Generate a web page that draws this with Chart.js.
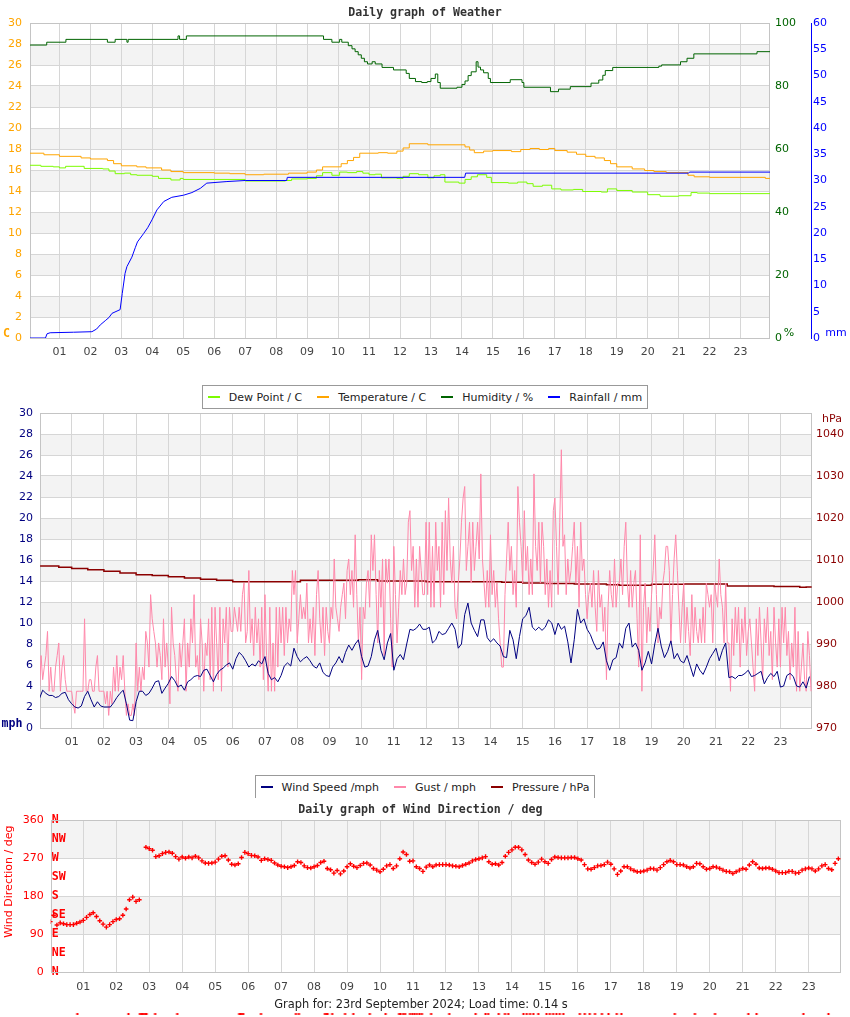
<!DOCTYPE html>
<html>
<head>
<meta charset="utf-8">
<title>Daily graph of Weather</title>
<script src="https://cdn.jsdelivr.net/npm/chart.js@4.4.1/dist/chart.umd.min.js"></script>
<style>
  body { margin: 0; background: #fff; }
  #page { position: relative; width: 850px; height: 1017px; overflow: hidden; font-family: "DejaVu Sans", sans-serif; }
  canvas { position: absolute; left: 0; }
  .legend { position: absolute; left: 0; width: 850px; text-align: center; z-index: 2; }
  .legend .box { display: inline-flex; align-items: center; height: 22px; padding: 0 5px; border: 1px solid #999; background: #fff; font-size: 11px; color: #222; }
  .legend .item { display: flex; align-items: center; margin-right: 15px; }
  .legend .item:last-child { margin-right: 0; }
  .legend .mark { width: 12px; height: 2px; margin-right: 9px; }
  #footer { position: absolute; top: 997px; left: 0; width: 842px; text-align: center; font-size: 11.4px; line-height: 14px; color: #222; z-index: 2; }
</style>
</head>
<body>
<div id="page">
  <canvas id="weather" width="850" height="370" style="top:0"></canvas>
  <canvas id="wind" width="850" height="382" style="top:388px"></canvas>
  <canvas id="direction" width="850" height="219" style="top:798px"></canvas>
  <canvas id="calm" width="850" height="12" style="top:1008px"></canvas>
  <div class="legend" id="legendWeather" style="top:383px"><div class="box"></div></div>
  <div class="legend" id="legendWind" style="top:773px"><div class="box" style="border-bottom:none"></div></div>
  <div id="footer">Graph for: 23rd September 2024; Load time: 0.14 s</div>
</div>
<script>
const hourTicks = [1, 2, 3, 4, 5, 6, 7, 8, 9, 10, 11, 12, 13, 14, 15, 16, 17, 18, 19, 20, 21, 22, 23]

// weather graph (breakpoints, value holds until next time)
const dewHours = [0.05, 0.4, 0.8, 1.0, 1.2, 1.8, 2.4, 2.6, 2.8, 3.1, 3.3, 3.5, 4.0, 4.2, 4.6, 4.9, 5.0, 6.0, 7.0, 8.3,
  8.5, 9.0, 9.3, 9.5, 9.8, 10.05, 10.3, 10.6, 10.8, 11.0, 11.2, 11.4, 11.9, 12.1, 12.3, 12.6, 12.9, 13.1, 13.3, 13.45,
  13.9, 14.1, 14.3, 14.5, 14.8, 14.95, 15.5, 15.8, 16.1, 16.3, 16.6, 16.9, 17.2, 17.6, 17.9, 18.5, 18.7, 19.0, 19.5, 20.0,
  20.4, 21.0, 21.4, 21.6, 22.0, 23.96]
const dewValues = [16.45, 16.35, 16.3, 16.2, 16.35, 16.15, 16.1, 15.9, 15.65, 15.7, 15.55, 15.5, 15.4, 15.2, 15.05, 15.2, 15.1, 15.1, 14.95, 15.0,
  15.15, 15.2, 15.45, 15.75, 15.5, 15.8, 15.75, 15.85, 15.7, 15.55, 15.6, 15.25, 15.2, 15.4, 15.65, 15.55, 15.25, 15.45, 15.55, 14.85,
  14.75, 15.1, 15.35, 15.55, 15.3, 14.8, 14.75, 14.85, 14.7, 14.45, 14.55, 14.2, 14.1, 14.15, 13.95, 13.9, 14.2, 14.05, 13.9, 13.65,
  13.5, 13.55, 13.85, 13.8, 13.75, 13.75]

const tempHours = [0.05, 0.5, 1.0, 1.7, 2.0, 2.55, 2.75, 3.0, 3.5, 3.8, 4.3, 4.6, 5.0, 6.0, 6.5, 7.0, 7.6, 8.4, 9.0, 9.3,
  9.5, 10.1, 10.3, 10.5, 10.7, 11.3, 11.6, 11.9, 12.1, 12.3, 12.9, 14.1, 14.25, 14.4, 14.7, 15.0, 15.6, 15.9, 16.2, 16.5,
  16.8, 17.0, 17.4, 17.7, 18.0, 18.3, 18.6, 18.8, 19.0, 19.5, 19.9, 20.2, 20.6, 21.3, 21.5, 22.0, 23.8, 23.96]
const tempValues = [17.6, 17.45, 17.3, 17.15, 17.05, 16.9, 16.6, 16.4, 16.3, 16.2, 16.0, 15.85, 15.75, 15.7, 15.65, 15.55, 15.6, 15.7, 15.8, 16.0,
  16.3, 16.6, 16.9, 17.2, 17.6, 17.65, 17.6, 17.8, 18.1, 18.5, 18.4, 18.2, 17.9, 17.65, 17.8, 17.85, 17.75, 17.95, 18.05, 17.95,
  18.05, 17.85, 17.7, 17.5, 17.3, 17.15, 16.9, 16.6, 16.3, 16.1, 15.95, 15.85, 15.75, 15.5, 15.35, 15.3, 15.2, 15.2]

const humHours = [0.05, 0.59, 1.21, 2.55, 2.8, 3.18, 3.22, 4.83, 4.88, 5.1, 9.53, 9.8, 10.05, 10.12, 10.33, 10.45, 10.55, 10.65, 10.75, 10.85,
  10.95, 11.1, 11.2, 11.42, 11.79, 12.2, 12.3, 12.5, 12.7, 12.88, 13.0, 13.14, 13.22, 13.3, 13.84, 14.0, 14.1, 14.2, 14.3, 14.46,
  14.52, 14.6, 14.7, 14.85, 14.92, 15.56, 15.94, 16.0, 16.86, 17.12, 17.5, 18.17, 18.42, 18.55, 18.63, 18.87, 20.36, 20.45, 21.06, 21.27,
  21.49, 23.53, 23.96]
const humValues = [93.0, 93.9, 94.8, 93.9, 94.8, 93.9, 94.8, 95.9, 94.8, 95.9, 94.8, 93.9, 94.8, 93.9, 92.8, 91.8, 90.9, 89.9, 88.8, 87.7,
  87.0, 87.7, 87.0, 85.9, 85.1, 84.0, 82.4, 81.4, 81.1, 81.4, 82.4, 83.8, 81.1, 79.3, 79.6, 80.5, 81.6, 83.3, 84.5, 87.7,
  86.0, 85.1, 84.2, 82.4, 81.1, 82.0, 81.1, 79.6, 78.2, 79.0, 79.8, 80.9, 81.9, 83.4, 84.9, 85.9, 86.3, 86.7, 87.7, 88.8,
  90.2, 90.9, 90.9]

const rainHours = [0.05, 0.55, 0.6, 0.7, 1.45, 2.05, 2.2, 2.32, 2.48, 2.6, 2.7, 2.96, 3.03, 3.12, 3.18, 3.34, 3.45, 3.52, 3.72, 3.85,
  3.99, 4.15, 4.37, 4.63, 5.01, 5.28, 5.55, 5.76, 6.41, 7.0, 8.34, 8.36, 14.09, 14.12, 21.32, 21.35, 23.96]
const rainValues = [0, 0, 0.8, 1.0, 1.1, 1.2, 1.7, 2.5, 3.3, 3.9, 4.7, 5.4, 8.5, 12.3, 13.6, 15.4, 17.2, 18.3, 19.9, 21.0,
  22.5, 24.4, 26.0, 26.8, 27.2, 27.7, 28.5, 29.5, 29.8, 30.0, 30.0, 30.6, 30.6, 31.4, 31.4, 31.6, 31.6]

// wind graph: speed every 6 min, gust every 3 min
const windHours = Array.from({ length: 240 }, (_, i) => i / 10)
const gustHours = Array.from({ length: 480 }, (_, i) => i / 20)

const speedValues = [
  2.8, 3.6, 3.3, 3.1, 3.1, 2.9, 3.0, 3.3, 3.4, 2.7,
  2.3, 2.0, 1.9, 2.1, 3.0, 3.5, 2.7, 2.0, 2.5, 2.1,
  2.0, 2.0, 2.0, 2.4, 2.9, 3.3, 3.6, 2.3, 0.75, 0.7,
  2.5, 3.5, 3.5, 3.1, 3.3, 3.8, 4.4, 4.5, 3.3, 3.8,
  4.25, 4.9, 4.5, 3.9, 4.1, 3.6, 4.4, 4.6, 4.9, 5.0,
  4.9, 5.5, 5.6, 5.0, 4.4, 5.1, 5.5, 5.7, 6.0, 6.2,
  5.6, 6.6, 7.2, 6.9, 6.4, 5.8, 6.1, 5.9, 6.4, 6.1,
  6.8, 5.2, 4.6, 4.8, 4.4, 5.0, 5.9, 6.2, 5.9, 7.6,
  6.8, 6.3, 6.6, 6.8, 6.4, 5.9, 5.7, 6.2, 5.3, 5.0,
  4.9, 5.8, 6.2, 6.8, 6.2, 7.2, 7.9, 7.4, 8.0, 8.4,
  6.8, 5.8, 5.9, 6.8, 8.4, 9.3, 7.4, 6.5, 8.1, 9.0,
  5.5, 6.6, 7.0, 6.5, 8.0, 9.4, 9.3, 9.5, 9.9, 9.4,
  9.4, 9.6, 8.1, 8.4, 9.2, 8.9, 9.0, 9.5, 10.0, 9.4,
  7.6, 8.0, 10.8, 11.9, 10.0, 9.3, 8.7, 10.3, 10.3, 8.6,
  8.2, 8.5, 8.1, 7.8, 6.8, 6.7, 9.3, 8.4, 6.6, 8.7,
  10.4, 10.7, 11.5, 9.6, 9.3, 9.6, 9.3, 9.6, 10.3, 10.0,
  8.9, 10.0, 9.4, 9.7, 8.2, 6.2, 8.4, 11.3, 10.0, 10.4,
  9.4, 8.9, 8.1, 7.5, 7.6, 8.2, 6.4, 5.5, 6.5, 6.7,
  8.1, 7.6, 9.5, 10.0, 7.7, 8.1, 7.4, 5.5, 6.2, 7.3,
  6.1, 8.0, 9.5, 7.8, 6.7, 7.3, 8.3, 6.6, 7.1, 6.4,
  6.2, 6.9, 5.9, 4.9, 6.1, 5.5, 5.1, 5.8, 6.6, 7.1,
  7.6, 6.4, 7.4, 8.1, 4.8, 4.9, 4.7, 5.0, 5.0, 5.2,
  5.5, 4.9, 5.0, 5.2, 5.4, 4.2, 4.8, 5.2, 4.9, 5.4,
  3.9, 4.0, 5.0, 5.2, 4.9, 4.0, 3.9, 4.4, 3.8, 4.9
]

const gustValues = [
  3.5, 6.9, 4.6, 5.8, 6.9, 9.2, 3.5, 5.8, 3.5, 3.5, 5.8, 6.9, 8.1, 3.5, 5.8, 6.9, 4.6, 3.5, 3.5, 3.5,
  3.5, 2.3, 1.4, 3.5, 3.5, 3.5, 3.5, 3.5, 10.4, 3.5, 3.5, 4.6, 4.6, 3.5, 3.5, 5.8, 6.9, 3.5, 3.5, 3.5,
  3.5, 2.3, 3.5, 1.2, 3.5, 2.3, 5.8, 3.5, 6.9, 3.5, 5.8, 4.6, 6.9, 3.5, 1.2, 2.3, 1.2, 1.2, 2.3, 1.2,
  8.1, 3.5, 5.8, 3.5, 5.8, 4.6, 9.2, 8.1, 5.8, 12.7, 10.4, 9.2, 8.1, 5.8, 8.1, 6.9, 4.6, 10.4, 5.8, 8.1,
  5.8, 2.3, 11.5, 8.1, 6.9, 4.6, 3.5, 8.1, 5.8, 8.1, 10.4, 3.5, 8.1, 5.8, 10.4, 8.1, 12.7, 5.8, 6.9, 4.6,
  10.4, 8.1, 3.5, 8.1, 6.9, 10.4, 4.6, 11.5, 3.5, 11.5, 8.1, 4.6, 11.5, 3.5, 10.4, 8.1, 11.5, 5.8, 11.5, 9.2,
  9.2, 11.5, 10.4, 9.2, 11.5, 9.2, 12.7, 13.8, 8.1, 9.2, 15.0, 8.1, 10.4, 6.9, 11.5, 8.1, 10.4, 5.8, 11.5, 4.6,
  12.7, 6.9, 3.5, 11.5, 3.5, 8.1, 3.5, 11.5, 5.8, 11.5, 8.1, 11.5, 6.9, 11.5, 8.1, 10.4, 9.2, 15.0, 12.7, 15.0,
  8.1, 10.4, 12.7, 10.4, 11.5, 10.4, 13.8, 8.1, 10.4, 8.1, 11.5, 6.9, 12.7, 15.0, 10.4, 8.1, 11.5, 6.9, 11.5, 9.2,
  8.1, 11.5, 10.4, 16.1, 11.5, 10.4, 9.2, 11.5, 12.7, 13.8, 10.4, 15.0, 16.1, 12.7, 15.0, 11.5, 18.4, 12.7, 8.1, 11.5,
  4.6, 11.5, 10.4, 13.8, 15.0, 11.5, 18.4, 15.0, 18.4, 12.7, 8.1, 15.0, 11.5, 16.1, 6.9, 16.1, 13.8, 16.1, 10.4, 5.8,
  17.3, 12.7, 8.1, 11.5, 15.0, 12.7, 16.1, 12.7, 13.8, 19.6, 20.7, 15.0, 17.3, 11.5, 16.1, 11.5, 17.3, 15.0, 12.7, 12.7,
  19.6, 12.7, 19.6, 11.5, 17.3, 11.5, 19.6, 15.0, 17.3, 11.5, 19.6, 12.7, 20.7, 15.0, 21.9, 16.1, 13.8, 17.3, 11.5, 10.4,
  13.8, 16.1, 19.6, 21.9, 23.0, 15.0, 17.3, 19.6, 13.8, 19.6, 15.0, 17.3, 19.6, 16.1, 24.2, 16.1, 13.8, 11.5, 15.0, 11.5,
  18.4, 12.7, 15.0, 11.5, 13.8, 10.4, 8.1, 5.8, 5.8, 12.7, 16.1, 19.6, 15.0, 17.3, 12.7, 15.0, 11.5, 23.0, 19.6, 17.3,
  13.8, 20.7, 15.0, 17.3, 12.7, 16.1, 12.7, 24.2, 17.3, 15.0, 19.6, 13.8, 19.6, 17.3, 12.7, 16.1, 11.5, 15.0, 11.5, 20.7,
  21.9, 17.3, 12.7, 19.6, 26.5, 17.3, 18.4, 12.7, 16.1, 13.8, 15.0, 17.3, 19.6, 13.8, 17.3, 11.5, 19.6, 15.0, 16.1, 12.7,
  10.4, 12.7, 13.8, 11.5, 15.0, 11.5, 9.2, 15.0, 11.5, 12.7, 9.2, 11.5, 4.6, 11.5, 15.0, 12.7, 11.5, 16.1, 11.5, 13.8,
  13.8, 16.1, 12.7, 17.3, 19.6, 13.8, 11.5, 15.0, 11.5, 13.8, 15.0, 10.4, 5.8, 18.4, 3.5, 11.5, 13.8, 8.1, 11.5, 9.2,
  12.7, 15.0, 18.4, 12.7, 8.1, 11.5, 10.4, 13.8, 15.0, 17.3, 17.3, 15.0, 8.1, 12.7, 16.1, 18.4, 15.0, 11.5, 8.1, 11.5,
  13.8, 8.1, 11.5, 9.2, 6.9, 12.7, 8.1, 11.5, 9.2, 8.1, 10.4, 8.1, 11.5, 8.1, 13.8, 12.7, 11.5, 12.7, 8.1, 13.8,
  12.7, 11.5, 16.1, 12.7, 11.5, 8.1, 13.8, 8.1, 8.1, 3.5, 10.4, 6.9, 11.5, 8.1, 11.5, 5.8, 10.4, 8.1, 11.5, 6.9,
  9.2, 10.4, 8.1, 5.8, 3.5, 10.4, 6.9, 11.5, 8.1, 4.6, 10.4, 8.1, 11.5, 6.9, 9.2, 4.6, 11.5, 8.1, 5.8, 10.4,
  5.8, 11.5, 8.1, 11.5, 6.9, 9.2, 4.6, 8.1, 5.8, 11.5, 3.5, 9.2, 3.5, 5.8, 8.1, 4.6, 3.5, 9.2, 6.9, 3.5
]

const pressHours = [0.02, 0.6, 1.0, 1.5, 2.0, 2.5, 3.0, 3.5, 4.0, 4.5, 5.0, 5.5, 6.0, 8.1, 9.9,
  10.5, 12.0, 14.35, 15.0, 15.7, 16.6, 17.6, 18.0, 19.0, 20.0, 21.35, 22.8, 23.6, 23.8, 23.97]
const pressValues = [1008.6, 1008.3, 1008.0, 1007.7, 1007.3, 1006.9, 1006.5, 1006.3, 1006.0, 1005.7, 1005.4, 1005.2, 1004.8, 1005.2, 1005.3,
  1005.0, 1004.8, 1004.7, 1004.5, 1004.4, 1004.3, 1004.1, 1004.0, 1004.2, 1004.3, 1003.8, 1003.7, 1003.5, 1003.6, 1003.6]
const pressTicks = [970, 980, 990, 1000, 1010, 1020, 1030, 1040]

// wind direction every 6 min (same hours as speed)
const dirValues = [
  120, 135, 112, 117, 115, 113, 113, 113, 116, 119,
  123, 130, 137, 141, 132, 122, 114, 107, 113, 120,
  125, 127, 135, 150, 172, 178, 168, 172, null, 296,
  293, 289, 274, 276, 281, 284, 285, 282, 274, 268,
  273, 270, 273, 271, 275, 271, 264, 259, 258, 259,
  261, 268, 275, 276, 266, 256, 254, 257, 272, 284,
  281, 277, 276, 273, 265, 269, 267, 265, 259, 254,
  251, 250, 248, 250, 253, 262, 260, 252, 248, 247,
  250, 253, 260, 263, 246, 243, 235, 241, 233, 240,
  250, 257, 251, 248, 253, 258, 259, 254, 246, 242,
  238, 244, 252, 255, 246, 252, 269, 285, 279, 263,
  264, 250, 246, 239, 249, 254, 250, 254, 255, 255,
  255, 254, 252, 251, 250, 253, 256, 259, 264, 267,
  269, 271, 274, 262, 256, 257, 254, 260, 275, 284,
  290, 296, 296, 290, 279, 266, 260, 256, 261, 268,
  262, 258, 267, 273, 272, 271, 271, 271, 272, 272,
  269, 266, 255, 245, 244, 248, 252, 253, 255, 261,
  256, 245, 232, 240, 250, 250, 245, 241, 238, 238,
  240, 242, 246, 245, 242, 248, 255, 262, 265, 262,
  255, 255, 254, 250, 247, 250, 258, 257, 250, 244,
  246, 250, 249, 246, 242, 239, 238, 234, 238, 242,
  246, 244, 254, 262, 256, 247, 246, 247, 247, 244,
  240, 236, 236, 236, 239, 239, 235, 236, 242, 245,
  247, 245, 240, 245, 252, 255, 246, 243, 258, 269
]

// readings that fall below the direction scale
const calmHours = [0.82, 2.37, 2.72, 2.76, 2.8, 2.84, 2.88, 2.92, 3.18, 3.85,
  5.73, 5.77, 5.81, 5.85, 6.39, 7.45, 7.54, 8.33, 8.37, 8.41,
  8.55, 8.94, 9.19, 9.69, 10.17, 10.58, 10.62, 10.7, 10.76, 10.91,
  10.98, 11.05, 11.12, 11.2, 11.27, 11.55, 12.1, 12.9, 13.2, 13.28,
  13.6, 13.79, 13.89, 14.35, 14.45, 14.55, 14.65, 14.8, 15.05, 15.15,
  15.25, 15.35, 15.45, 15.56, 16.06, 16.21, 16.36, 16.52, 16.73, 16.93,
  17.18, 17.32, 18.94, 19.55, 20.16, 21.17, 21.42, 22.84, 23.6]
const calmValues = [-98, -98, -98, -98, -98, -98, -98, -98, -98, -98,
  -98, -98, -98, -98, -98, -98, -98, -98, -98, -98,
  -98, -98, -98, -98, -98, -98, -98, -98, -98, -98,
  -98, -98, -98, -98, -98, -98, -98, -98, -98, -98,
  -98, -98, -98, -98, -98, -98, -98, -98, -98, -98,
  -98, -98, -98, -98, -98, -98, -98, -98, -98, -98,
  -98, -98, -98, -98, -98, -98, -98, -98, -98]

const compassNames = { 0: 'N', 45: 'NE', 90: 'E', 135: 'SE', 180: 'S', 225: 'SW', 270: 'W', 315: 'NW', 360: 'N' }

Chart.defaults.font.family = 'DejaVu Sans'
const tickFont = { family: 'DejaVu Sans', size: 11 }
const titleFont = { family: 'DejaVu Sans Mono', weight: 'bold', size: 11.6 }
const gridColor = '#d6d6d6'

function pts(xs, ys) {
  return xs.map((x, i) => ({ x: x, y: ys[i] }))
}

function hourAxis(min, max, height) {
  return {
    type: 'linear', min: min, max: max,
    afterBuildTicks: s => { s.ticks = hourTicks.map(v => ({ value: v })) },
    afterFit: s => { s.height = height },
    ticks: { color: '#444', font: tickFont, padding: 8, maxRotation: 0, autoSkip: false,
      callback: v => String(v).padStart(2, '0') },
    grid: { color: gridColor, drawTicks: false },
    border: { display: false }
  }
}

// grey bands between every other tick of the main y axis
const stripes = {
  id: 'stripes',
  beforeDraw(chart, args, opts) {
    const y = chart.scales[opts.axis]
    const { left, right } = chart.chartArea
    const ctx = chart.ctx
    ctx.save()
    ctx.fillStyle = '#f3f3f3'
    for (let i = 1; i < y.ticks.length - 1; i += 2) {
      const a = y.getPixelForValue(y.ticks[i].value)
      const b = y.getPixelForValue(y.ticks[i + 1].value)
      ctx.fillRect(left, b, right - left, a - b)
    }
    ctx.restore()
  }
}

const frame = {
  id: 'frame',
  beforeDatasetsDraw(chart) {
    const { left, right, top, bottom } = chart.chartArea
    const ctx = chart.ctx
    ctx.save()
    ctx.strokeStyle = '#c4c4c4'
    ctx.lineWidth = 1
    ctx.strokeRect(Math.round(left) + 0.5, Math.round(top) + 0.5, Math.round(right - left) - 1, Math.round(bottom - top))
    ctx.restore()
  }
}

const units = {
  id: 'units',
  afterDraw(chart, args, opts) {
    const ctx = chart.ctx
    for (const t of opts.items || []) {
      ctx.save()
      ctx.font = t.font
      ctx.fillStyle = t.color
      ctx.textAlign = 'center'
      ctx.textBaseline = 'middle'
      ctx.translate(t.x, t.y)
      if (t.rotate) ctx.rotate(t.rotate)
      ctx.fillText(t.text, 0, 0)
      ctx.restore()
    }
  }
}

const base = {
  responsive: false,
  animation: false,
  devicePixelRatio: 1,
  events: [],
  elements: { point: { radius: 0 }, line: { borderWidth: 1, tension: 0 } }
}

const weatherChart = new Chart(document.getElementById('weather'), {
  type: 'line',
  data: {
    datasets: [
      { label: 'Dew Point / C', data: pts(dewHours, dewValues), borderColor: '#7CFC00', yAxisID: 'y', stepped: true },
      { label: 'Temperature / C', data: pts(tempHours, tempValues), borderColor: '#FFA500', yAxisID: 'y', stepped: true },
      { label: 'Humidity / %', data: pts(humHours, humValues), borderColor: '#006400', yAxisID: 'yHum', stepped: true },
      { label: 'Rainfall / mm', data: pts(rainHours, rainValues), borderColor: '#0000FF', yAxisID: 'yRain', order: -1 }
    ]
  },
  options: {
    ...base,
    plugins: {
      legend: { display: false },
      tooltip: { enabled: false },
      title: { display: true, text: 'Daily graph of Weather', color: '#333', font: titleFont, padding: { top: 6, bottom: 3.08 } },
      stripes: { axis: 'y' },
      units: { items: [
        { text: 'C', x: 6.5, y: 333.5, color: '#FFA500', font: 'bold 11.6px "DejaVu Sans Mono"' },
        { text: '%', x: 789, y: 333, color: '#006400', font: '11px "DejaVu Sans"' },
        { text: 'mm', x: 836, y: 333, color: '#0000FF', font: '11px "DejaVu Sans"' }
      ] }
    },
    scales: {
      x: hourAxis(0.05, 23.95, 32),
      y: {
        type: 'linear', position: 'left', min: 0, max: 30,
        ticks: { stepSize: 2, color: '#FFA500', font: tickFont, padding: 8, autoSkip: false },
        grid: { color: gridColor, drawTicks: false }, border: { display: false },
        afterFit: s => { s.width = 30 }
      },
      yHum: {
        type: 'linear', position: 'right', min: 0, max: 100,
        ticks: { stepSize: 20, color: '#006400', font: tickFont, padding: 5, autoSkip: false },
        grid: { drawOnChartArea: false, drawTicks: false }, border: { display: false },
        afterFit: s => { s.width = 41 }
      },
      yRain: {
        type: 'linear', position: 'right', min: 0, max: 60,
        ticks: { stepSize: 5, color: '#0000FF', font: tickFont, padding: 2, autoSkip: false },
        grid: { drawOnChartArea: false, drawTicks: false }, border: { color: '#0000FF', width: 1 },
        afterFit: s => { s.width = 39 }
      }
    }
  },
  plugins: [stripes, frame, units]
})

const windChart = new Chart(document.getElementById('wind'), {
  type: 'line',
  data: {
    datasets: [
      { label: 'Wind Speed /mph', data: pts(windHours, speedValues), borderColor: '#000080', yAxisID: 'y' },
      { label: 'Gust / mph', data: pts(gustHours, gustValues), borderColor: '#FF88AA', yAxisID: 'y' },
      { label: 'Pressure / hPa', data: pts(pressHours, pressValues), borderColor: '#8B0000', borderWidth: 1.5, yAxisID: 'yP', stepped: true }
    ]
  },
  options: {
    ...base,
    plugins: {
      legend: { display: false },
      tooltip: { enabled: false },
      title: { display: true, text: 'Daily graph of Weather', color: '#333', font: titleFont, padding: { top: 8, bottom: 3.08 } },
      stripes: { axis: 'y' },
      units: { items: [
        { text: 'mph', x: 12, y: 335.5, color: '#000080', font: 'bold 11.6px "DejaVu Sans Mono"' },
        { text: 'hPa', x: 832, y: 31, color: '#8B0000', font: '11px "DejaVu Sans"' }
      ] }
    },
    scales: {
      x: hourAxis(0.017, 23.98, 42),
      y: {
        type: 'linear', position: 'left', min: 0, max: 30,
        ticks: { stepSize: 2, color: '#000080', font: tickFont, padding: 7, autoSkip: false },
        grid: { color: gridColor, drawTicks: false }, border: { display: false },
        afterFit: s => { s.width = 40 }
      },
      yP: {
        type: 'linear', position: 'right', min: 970, max: 1045,
        afterBuildTicks: s => { s.ticks = pressTicks.map(v => ({ value: v })) },
        ticks: { color: '#8B0000', font: tickFont, padding: 4, autoSkip: false, callback: v => String(v) },
        grid: { drawOnChartArea: false, drawTicks: false }, border: { display: false },
        afterFit: s => { s.width = 38 }
      }
    }
  },
  plugins: [stripes, frame, units]
})

new Chart(document.getElementById('direction'), {
  type: 'line',
  data: {
    datasets: [
      { label: 'Wind Direction / deg', data: pts(windHours, dirValues), yAxisID: 'y', showLine: false,
        borderColor: '#FF0000', backgroundColor: '#FF0000', pointStyle: 'cross', pointRadius: 2.3, pointBorderWidth: 1.4 }
    ]
  },
  options: {
    ...base,
    layout: { padding: { right: 9.33 } },
    plugins: {
      legend: { display: false },
      tooltip: { enabled: false },
      title: { display: true, text: 'Daily graph of Wind Direction / deg', color: '#333', font: titleFont, padding: { top: 5, bottom: 3.38 } },
      stripes: { axis: 'y' },
      units: { items: [
        { text: 'Wind Direction / deg', x: 8.7, y: 83.7, rotate: -Math.PI / 2, color: '#FF0000', font: '11px "DejaVu Sans"' }
      ] }
    },
    scales: {
      x: hourAxis(0.011, 23.97, 44.7),
      yCompass: {
        type: 'linear', position: 'left', min: 0, max: 360,
        afterBuildTicks: s => { s.ticks = [0, 45, 90, 135, 180, 225, 270, 315, 360].map(v => ({ value: v })) },
        ticks: { mirror: true, padding: 1, color: '#FF0000', font: titleFont, autoSkip: false, callback: v => compassNames[v] },
        grid: { display: false }, border: { display: false },
        afterFit: s => { s.width = 0 }
      },
      y: {
        type: 'linear', position: 'left', min: 0, max: 360,
        ticks: { stepSize: 90, color: '#FF0000', font: tickFont, padding: 7, autoSkip: false },
        grid: { color: gridColor, drawTicks: false }, border: { display: false },
        afterFit: s => { s.width = 50.67 }
      }
    }
  },
  plugins: [stripes, frame, units]
})

// strip under the direction graph for the off-scale readings
new Chart(document.getElementById('calm'), {
  type: 'line',
  data: {
    datasets: [
      { label: 'Wind Direction / deg', data: pts(calmHours, calmValues), showLine: false,
        borderColor: '#FF0000', backgroundColor: '#FF0000', pointStyle: 'cross', pointRadius: 1.6, pointBorderWidth: 1 }
    ]
  },
  options: {
    ...base,
    layout: { padding: { left: 50.67, right: 9.33 } },
    plugins: { legend: { display: false }, tooltip: { enabled: false } },
    scales: {
      x: { type: 'linear', display: false, min: 0.011, max: 23.97 },
      y: { type: 'linear', display: false, min: -104, max: -92 }
    }
  }
})

function buildLegend(id, chart) {
  const box = document.querySelector('#' + id + ' .box')
  chart.data.datasets.forEach(ds => {
    const item = document.createElement('span')
    item.className = 'item'
    const mark = document.createElement('span')
    mark.className = 'mark'
    mark.style.background = ds.borderColor
    const text = document.createElement('span')
    text.textContent = ds.label
    item.append(mark, text)
    box.append(item)
  })
}

buildLegend('legendWeather', weatherChart)
buildLegend('legendWind', windChart)
</script>
</body>
</html>
